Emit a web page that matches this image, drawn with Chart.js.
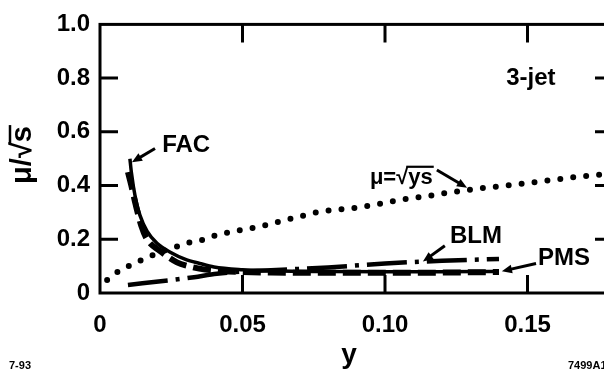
<!DOCTYPE html>
<html>
<head>
<meta charset="utf-8">
<script src="https://cdn.jsdelivr.net/npm/chart.js@4"></script>
<style>
  html, body { margin: 0; padding: 0; background: #fff; overflow: hidden; }
  #wrap { width: 620px; height: 373px; }
</style>
</head>
<body>
<div id="wrap"><canvas id="chart" width="620" height="373"></canvas></div>
<script>
// axis ticks
const xTickVals = [0, 0.05, 0.10, 0.15];
const xTickLabels = ['0', '0.05', '0.10', '0.15'];
const yTickVals = [0, 0.2, 0.4, 0.6, 0.8, 1.0];
const yTickLabels = ['0', '0.2', '0.4', '0.6', '0.8', '1.0'];

// mu = sqrt(ys) reference curve (dotted)
const sqrtX = [0.0025, 0.006, 0.0105, 0.015, 0.019, 0.0235, 0.028, 0.032, 0.037, 0.041, 0.046, 0.051, 0.055, 0.06,
               0.069, 0.078, 0.088, 0.097, 0.106, 0.116, 0.12, 0.13, 0.139, 0.148, 0.158, 0.167, 0.175, 0.18];
const sqrtY = [0.048, 0.077, 0.103, 0.125, 0.143, 0.161, 0.176, 0.19, 0.20, 0.216, 0.227, 0.238, 0.245, 0.258,
               0.282, 0.304, 0.315, 0.33, 0.348, 0.363, 0.37, 0.385, 0.396, 0.407, 0.42, 0.432, 0.44, 0.445];

// FAC (solid)
const facX = [0.0105, 0.011, 0.0125, 0.014, 0.0165, 0.02, 0.025, 0.03, 0.035, 0.04, 0.05, 0.06, 0.08, 0.10, 0.12, 0.14];
const facY = [0.50, 0.45, 0.35, 0.29, 0.23, 0.185, 0.15, 0.125, 0.11, 0.097, 0.087, 0.083, 0.08, 0.079, 0.079, 0.08];

// PMS (thick dashed)
const pmsX = [0.0098, 0.011, 0.0125, 0.0145, 0.0165, 0.021, 0.027, 0.031, 0.037, 0.045, 0.06, 0.08, 0.10, 0.12, 0.14];
const pmsY = [0.45, 0.40, 0.33, 0.25, 0.20, 0.157, 0.114, 0.10, 0.087, 0.08, 0.076, 0.075, 0.075, 0.076, 0.078];

// BLM (dash-dot)
const blmX = [0.0098, 0.025, 0.033, 0.041, 0.06, 0.08, 0.10, 0.12, 0.14];
const blmY = [0.03, 0.048, 0.059, 0.072, 0.085, 0.095, 0.11, 0.12, 0.127];

function pts(xs, ys) {
  return xs.map((x, i) => ({ x: x, y: ys[i] }));
}

const FONT = '"Liberation Sans", Arial, sans-serif';

// arrow helper
function arrow(ctx, x1, y1, x2, y2) {
  const a = Math.atan2(y2 - y1, x2 - x1);
  const h = 11;
  ctx.beginPath();
  ctx.moveTo(x1, y1);
  ctx.lineTo(x2 - 5 * Math.cos(a), y2 - 5 * Math.sin(a));
  ctx.lineWidth = 3;
  ctx.stroke();
  ctx.beginPath();
  ctx.moveTo(x2, y2);
  ctx.lineTo(x2 - h * Math.cos(a - 0.4), y2 - h * Math.sin(a - 0.4));
  ctx.lineTo(x2 - h * Math.cos(a + 0.4), y2 - h * Math.sin(a + 0.4));
  ctx.closePath();
  ctx.fill();
}

const decor = {
  id: 'decor',
  afterDraw(chart) {
    const ctx = chart.ctx;
    const xs = chart.scales.x, ys = chart.scales.y;
    const a = chart.chartArea;
    const X = v => xs.getPixelForValue(v);
    const Y = v => ys.getPixelForValue(v);
    ctx.save();
    ctx.strokeStyle = '#000';
    ctx.fillStyle = '#000';
    ctx.setLineDash([]);

    // frame
    ctx.lineWidth = 3;
    ctx.strokeRect(a.left, a.top, a.right - a.left, a.bottom - a.top);

    // inward ticks on all four sides
    const tl = 18;
    ctx.beginPath();
    xTickVals.forEach(v => {
      if (v === 0) return;
      ctx.moveTo(X(v), a.bottom); ctx.lineTo(X(v), a.bottom - tl);
      ctx.moveTo(X(v), a.top); ctx.lineTo(X(v), a.top + tl);
    });
    yTickVals.forEach(v => {
      if (v === 0 || v === 1) return;
      ctx.moveTo(a.left, Y(v)); ctx.lineTo(a.left + tl, Y(v));
      ctx.moveTo(a.right, Y(v)); ctx.lineTo(a.right - tl, Y(v));
    });
    ctx.stroke();

    // curve labels
    ctx.textBaseline = 'middle';
    ctx.textAlign = 'left';
    ctx.font = 'bold 24px ' + FONT;
    ctx.fillText('FAC', X(0.0218), Y(0.549));
    arrow(ctx, X(0.0193), Y(0.538), X(0.0112), Y(0.487));

    ctx.fillText('BLM', X(0.1228), Y(0.209));
    arrow(ctx, X(0.121), Y(0.176), X(0.1133), Y(0.117));

    ctx.fillText('PMS', X(0.1537), Y(0.128));
    arrow(ctx, X(0.153), Y(0.11), X(0.141), Y(0.081));

    ctx.fillText('3-jet', X(0.1425), Y(0.80));

    // mu = sqrt(ys)
    ctx.font = 'bold 22px ' + FONT;
    let px = X(0.0947), py = Y(0.429);
    ctx.fillText('\u03bc=\u221a', px, py);
    const w1 = ctx.measureText('\u03bc=\u221a').width;
    ctx.fillText('ys', px + w1, py);
    const w2 = ctx.measureText('ys').width;
    ctx.lineWidth = 2.2;
    ctx.beginPath();
    ctx.moveTo(px + w1 - 2, py - 11);
    ctx.lineTo(px + w1 + w2 + 1, py - 11);
    ctx.stroke();
    arrow(ctx, X(0.1182), Y(0.458), X(0.1288), Y(0.392));

    // axis titles
    ctx.font = 'bold 28px ' + FONT;
    ctx.textAlign = 'center';
    ctx.fillText('y', 349, 355);

    ctx.save();
    ctx.translate(23, 155);
    ctx.rotate(-Math.PI / 2);
    ctx.textAlign = 'left';
    ctx.font = 'bold 29px ' + FONT;
    const t1 = '\u03bc/\u221a';
    const tw1 = ctx.measureText(t1).width;
    const tw2 = ctx.measureText('s').width;
    const sx = -(tw1 + tw2) / 2;
    ctx.fillText(t1, sx, 0);
    ctx.fillText('s', sx + tw1, 0);
    ctx.lineWidth = 2.5;
    ctx.beginPath();
    ctx.moveTo(sx + tw1 - 2, -13);
    ctx.lineTo(sx + tw1 + tw2 + 1, -13);
    ctx.stroke();
    ctx.restore();

    // figure codes
    ctx.font = 'bold 11px ' + FONT;
    ctx.textAlign = 'left';
    ctx.fillText('7-93', 9, 366);
    ctx.fillText('7499A1', 568, 366);

    ctx.restore();
  }
};

new Chart(document.getElementById('chart'), {
  type: 'line',
  data: {
    datasets: [
      {
        label: 'mu = sqrt(ys)',
        data: pts(sqrtX, sqrtY),
        borderColor: '#000',
        borderWidth: 6,
        borderDash: [0, 13],
        borderCapStyle: 'round',
        pointRadius: 0,
        cubicInterpolationMode: 'monotone',
        fill: false,
      },
      {
        label: 'BLM',
        data: pts(blmX, blmY),
        borderColor: '#000',
        borderWidth: 4.5,
        borderDash: [40, 8, 4, 8],
        pointRadius: 0,
        cubicInterpolationMode: 'monotone',
        fill: false,
      },
      {
        label: 'PMS',
        data: pts(pmsX, pmsY),
        borderColor: '#000',
        borderWidth: 6,
        borderDash: [18, 7],
        pointRadius: 0,
        cubicInterpolationMode: 'monotone',
        fill: false,
      },
      {
        label: 'FAC',
        data: pts(facX, facY),
        borderColor: '#000',
        borderWidth: 3.5,
        pointRadius: 0,
        cubicInterpolationMode: 'monotone',
        fill: false,
      },
    ],
  },
  options: {
    responsive: false,
    animation: false,
    layout: { padding: { top: 20, right: 7, left: 0, bottom: 0 } },
    plugins: { legend: { display: false }, tooltip: { enabled: false } },
    scales: {
      x: {
        type: 'linear',
        min: 0,
        max: 0.18,
        grid: { display: false, drawTicks: false },
        border: { display: false },
        afterBuildTicks: s => { s.ticks = xTickVals.map(v => ({ value: v })); },
        afterFit: s => { s.height = 80; },
        ticks: {
          padding: 18,
          color: '#000',
          font: { family: FONT, size: 24, weight: 'bold' },
          maxRotation: 0,
          autoSkip: false,
          callback: (v, i) => xTickLabels[i],
        },
      },
      y: {
        min: 0,
        max: 1,
        grid: { display: false, drawTicks: false },
        border: { display: false },
        afterBuildTicks: s => { s.ticks = yTickVals.map(v => ({ value: v })); },
        afterFit: s => { s.width = 100; },
        ticks: {
          padding: 10,
          color: '#000',
          font: { family: FONT, size: 24, weight: 'bold' },
          autoSkip: false,
          callback: (v, i) => yTickLabels[i],
        },
      },
    },
  },
  plugins: [decor],
});
</script>
</body>
</html>
